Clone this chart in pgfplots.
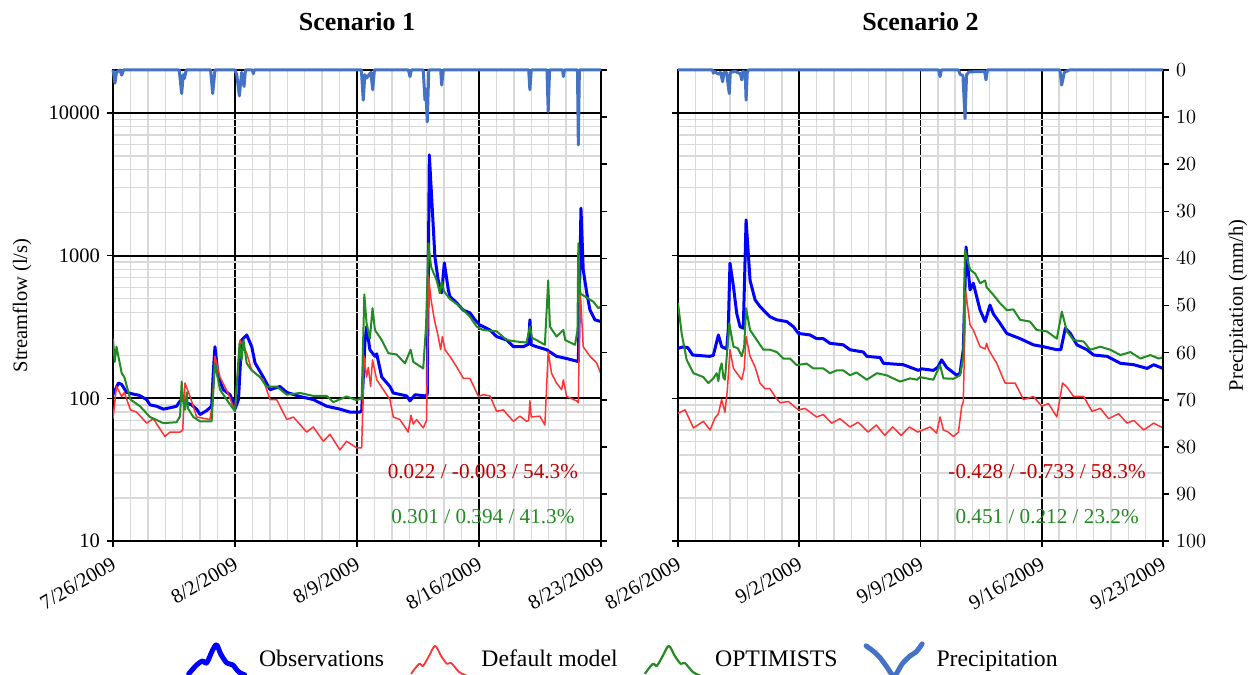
\documentclass[border=0pt]{standalone}
\usepackage{fontspec}
\setmainfont{Liberation Serif}
\usepackage{pgfplots}
\pgfplotsset{compat=1.18}
\definecolor{obsblue}{RGB}{0,0,255}
\definecolor{defred}{RGB}{255,51,51}
\definecolor{optgreen}{RGB}{34,139,34}
\definecolor{precblue}{RGB}{68,114,196}
\definecolor{gridgray}{RGB}{217,217,217}
\definecolor{txtred}{RGB}{192,0,0}
\definecolor{txtgreen}{RGB}{34,139,34}
\newcommand{\tickfont}{\fontsize{10.25}{12}\selectfont}
\pgfplotsset{
  flowaxis/.style={
    scale only axis, height=235.5pt,
    xmin=0, xmax=28, ymin=10, ymax=20000,
    xtick={0,7,14,21,28},
    minor xtick={1,2,3,4,5,6,8,9,10,11,12,13,15,16,17,18,19,20,22,23,24,25,26,27},
    ytick={10,100,1000,10000},
    minor ytick={20,30,40,50,60,70,80,90,200,300,400,500,600,700,800,900,2000,3000,4000,5000,6000,7000,8000,9000},
    grid=both,
    major grid style={black, line width=0.9pt},
    minor grid style={gridgray, line width=0.7pt},
    tick align=outside, major tick length=3pt, minor tick length=0pt,
    tick style={black, line width=0.8pt},
    axis line style={black, line width=0.9pt},
    xtick pos=bottom, ytick pos=left,
    xticklabel style={rotate=30, anchor=north east, font=\tickfont},
    yticklabel style={font=\tickfont},
    ylabel style={font=\tickfont},
    every axis plot/.append style={line join=round},
    title style={at={(0.5,1)}, anchor=center, yshift=18pt, font=\fontsize{13}{15}\selectfont\bfseries},
  },
  rainaxis/.style={
    scale only axis, height=235.5pt,
    xmin=0, xmax=28, ymin=0, ymax=100, y dir=reverse,
    axis y line*=right, axis x line=none,
    ytick={0,10,20,30,40,50,60,70,80,90,100},
    tick align=outside, major tick length=3pt,
    tick style={black, line width=0.8pt},
    axis line style={black, line width=0.9pt},
    yticklabel style={font=\tickfont},
    ylabel style={font=\tickfont},
    every axis plot/.append style={line join=round},
    clip=false,
  },
}
\begin{document}
\begin{tikzpicture}
\path[use as bounding box] (0pt,0pt) rectangle (625.5pt,337pt);
% ---------------- Panel 1 ----------------
\begin{axis}[ymode=log, flowaxis, width=244pt, at={(56.5pt,66.5pt)}, anchor=south west,
  title={Scenario 1},
  xticklabels={7/26/2009,8/2/2009,8/9/2009,8/16/2009,8/23/2009},
  yticklabels={10,100,1000,10000},
  ylabel={Streamflow (l/s)},
  ylabel style={at={(axis description cs:-0.1865,0.5)}, anchor=center},
  legend style={at={(1.047,-0.2527)}, anchor=center, draw=none, fill=none,
    font=\fontsize{11.85}{14}\selectfont, /tikz/every even column/.append style={column sep=11pt}},
  legend columns=4, legend cell align=left]
\addplot[obsblue, line width=1.5pt, forget plot] coordinates {
(0,106)(0.31,128)(0.5,125)(0.78,110)(1.17,107)(1.5,105)(1.93,98)(2.12,90)(2.5,88)(2.89,84)(3.3,86)(3.65,88)(3.8,94)(3.94,98)(4.23,93)(4.5,90)(4.8,84)(4.99,77)(5.37,82)(5.66,88)(5.75,150)(5.85,230)(6.04,141)(6.33,115)(6.71,106)(6.9,95)(7.0,84)(7.2,98)(7.38,256)(7.67,278)(7.96,230)(8.15,177)(8.62,141)(9.01,115)(9.58,121)(9.97,110)(10.73,103)(11.49,98)(12.26,88)(13.02,84)(13.6,80)(14.17,80)(14.27,82)(14.46,250)(14.55,318)(14.74,219)(15.03,197)(15.13,205)(15.42,141)(15.89,121)(16.08,109)(16.85,104)(17.04,96)(17.33,106)(17.9,104)(18.03,106)(18.15,5080)(18.47,980)(18.66,670)(18.86,550)(19.01,890)(19.24,575)(19.33,518)(19.72,466)(20.1,415)(20.48,397)(20.77,355)(21.04,327)(21.63,301)(22.01,271)(22.59,256)(22.97,230)(23.54,230)(23.85,240)(23.92,355)(24.0,237)(24.3,230)(24.88,219)(25.45,197)(26.03,190)(26.7,181)(26.85,2150)(26.98,797)(27.18,550)(27.37,415)(27.65,355)(28,345)};
\addplot[defred, line width=0.75pt, forget plot] coordinates {
(0,72)(0.2,121)(0.5,103)(0.65,110)(1.0,83)(1.36,80)(1.93,67)(2.31,72)(2.98,54)(3.27,58)(3.84,58)(4.0,60)(4.13,128)(4.42,103)(4.8,74)(5.56,71)(5.7,90)(5.85,197)(6.14,141)(6.61,108)(7.0,81)(7.29,256)(7.49,230)(7.67,207)(7.96,157)(8.62,135)(9.01,98)(9.39,98)(9.97,71)(10.35,74)(11.11,58)(11.49,63)(12.07,50)(12.45,56)(13.02,43.5)(13.4,50)(13.98,45)(14.27,45)(14.4,197)(14.55,141)(14.65,165)(14.78,121)(14.89,186)(15.13,135)(15.51,115)(15.89,98)(16.08,74)(16.46,71)(16.94,58)(17.1,76)(17.23,66)(17.42,71)(17.8,62)(17.99,70)(18.1,730)(18.25,490)(18.44,355)(18.66,271)(18.8,219)(18.9,271)(19.05,219)(19.33,197)(19.72,166)(20.1,138)(20.48,138)(20.97,103)(21.24,106)(21.63,104)(22.01,81)(22.39,83)(22.97,69)(23.35,75)(23.73,69)(23.85,70)(23.92,96)(24.0,74)(24.49,75)(24.78,65)(24.97,213)(25.16,150)(25.45,128)(25.74,115)(25.84,135)(26.03,103)(26.6,96)(26.7,93)(26.8,600)(26.98,230)(27.37,197)(27.75,177)(28,148)};
\addplot[optgreen, line width=1pt, forget plot] coordinates {
(0,262)(0.1,180)(0.2,230)(0.5,150)(0.65,141)(1.0,98)(1.55,88)(2.12,74)(2.89,67)(3.65,68)(3.85,75)(3.94,131)(4.05,90)(4.13,83)(4.23,110)(4.3,85)(4.61,74)(4.99,69)(5.66,69)(5.85,176)(6.14,115)(6.52,98)(7.0,81)(7.26,243)(7.38,186)(7.49,256)(7.67,176)(7.96,157)(8.43,141)(8.81,121)(9.39,121)(9.97,106)(10.73,109)(11.49,104)(12.26,104)(12.64,94)(13.4,103)(13.98,97)(14.27,100)(14.42,535)(14.55,334)(14.74,262)(14.89,428)(15.03,301)(15.42,256)(15.8,207)(16.27,203)(16.75,176)(17.08,219)(17.23,180)(17.8,162)(17.96,318)(18.1,1222)(18.25,835)(18.57,670)(18.76,544)(18.86,656)(19.0,560)(19.33,497)(19.91,440)(20.48,373)(20.87,318)(21.24,301)(22.01,295)(22.59,256)(23.16,250)(23.73,246)(23.92,318)(24.05,265)(24.3,256)(24.78,237)(24.97,670)(25.07,318)(25.45,271)(25.84,301)(25.95,256)(26.51,237)(26.65,300)(26.7,1222)(26.8,544)(27.08,518)(27.56,475)(27.85,428)(28,440)};
\node[text=txtred, font=\fontsize{10.6}{12}\selectfont] at (rel axis cs:0.758,0.1465) {0.022 / -0.003 / 54.3\%};
\node[text=txtgreen, font=\fontsize{10.6}{12}\selectfont] at (rel axis cs:0.758,0.051) {0.301 / 0.394 / 41.3\%};
\addlegendimage{legend image code/.code={\draw[obsblue,line width=2.5pt,line join=round,line cap=round] plot[smooth] coordinates {(0pt,-7pt) (4pt,-2.5pt) (7pt,-0.5pt) (9pt,-1.5pt) (12pt,5pt) (14pt,7.5pt) (16pt,3pt) (19pt,-1.5pt) (22pt,-2.5pt) (25pt,-6pt) (28pt,-7.5pt)}; \path (33pt,0pt);}}
\addlegendentry{Observations}
\addlegendimage{legend image code/.code={\draw[defred,line width=0.9pt,line join=round] plot[smooth] coordinates {(0pt,-7pt) (4pt,-2pt) (6pt,-3pt) (9pt,2pt) (12pt,7pt) (15pt,2pt) (18pt,-2pt) (20pt,-1.5pt) (24pt,-6pt) (28pt,-8pt)}; \path (33pt,0pt);}}
\addlegendentry{Default model}
\addlegendimage{legend image code/.code={\draw[optgreen,line width=1.1pt,line join=round] plot[smooth] coordinates {(0pt,-7pt) (4pt,-2pt) (6pt,-3pt) (9pt,2pt) (12pt,7pt) (15pt,2pt) (18pt,-2pt) (20pt,-1.5pt) (24pt,-6pt) (28pt,-8pt)}; \path (33pt,0pt);}}
\addlegendentry{OPTIMISTS}
\addlegendimage{legend image code/.code={\draw[precblue,line width=2.5pt,line join=round,line cap=round] plot[smooth] coordinates {(0pt,7pt) (4pt,4pt) (7pt,1pt) (10pt,-3pt) (14pt,-8pt) (18pt,-2pt) (22pt,2pt) (25pt,4pt) (28pt,8pt)}; \path (33pt,0pt);}}
\addlegendentry{Precipitation}
\end{axis}
\begin{axis}[rainaxis, width=244pt, at={(56.5pt,66.5pt)}, anchor=south west, yticklabels={}]
\addplot[precblue, line width=1.5pt] coordinates {
(0,0)(0.05,1)(0.11,2.8)(0.2,0.5)(0.4,0)(0.5,1.1)(0.6,0)(3.8,0)(3.94,5.0)(4.03,1.0)(4.1,1.8)(4.2,0)(5.6,0)(5.72,5.0)(5.85,0)(7.0,0)(7.1,1)(7.25,5.5)(7.38,0.5)(7.52,3.5)(7.6,0)(8.0,0)(8.05,0.8)(8.1,0)(14.25,0)(14.36,6.4)(14.45,1)(14.55,1.7)(14.8,0.5)(14.9,4.2)(15.0,0)(16.95,0)(17.04,1.4)(17.12,0)(17.8,0)(17.9,6.4)(17.95,4)(18.03,11)(18.12,0)(18.8,0)(18.86,3.2)(18.95,0)(23.85,0)(23.92,4.2)(24.0,0)(24.9,0)(24.97,8.8)(25.05,0)(25.8,0)(25.84,1.4)(25.9,0)(26.65,0)(26.7,15.9)(26.76,0)(28,0)};
\end{axis}
% ---------------- Panel 2 ----------------
\begin{axis}[ymode=log, flowaxis, width=242.5pt, at={(339pt,66.5pt)}, anchor=south west,
  title={Scenario 2},
  xticklabels={8/26/2009,9/2/2009,9/9/2009,9/16/2009,9/23/2009},
  yticklabels={}]
\addplot[obsblue, line width=1.5pt] coordinates {
(0,224)(0.27,229)(0.56,227)(0.85,201)(1.81,197)(2.04,200)(2.33,278)(2.52,230)(2.81,222)(2.9,300)(3.0,886)(3.2,608)(3.39,394)(3.58,318)(3.77,310)(3.93,1780)(4.16,670)(4.45,490)(4.73,440)(5.02,405)(5.31,373)(5.7,355)(6.28,345)(6.66,318)(6.95,285)(7.62,278)(8.0,262)(8.39,262)(8.77,243)(9.54,237)(9.93,219)(10.7,211)(10.9,197)(11.67,193)(11.86,176)(13.01,172)(13.88,157)(14.07,161)(14.74,157)(15.0,165)(15.22,186)(15.5,165)(16.09,145)(16.28,150)(16.47,219)(16.63,1150)(16.86,575)(17.05,640)(17.24,518)(17.44,415)(17.73,345)(18.01,450)(18.21,390)(18.59,336)(18.98,285)(19.75,262)(20.52,237)(21.1,230)(21.87,219)(22.1,219)(22.36,310)(22.65,285)(23.03,237)(23.61,219)(24.0,201)(24.77,197)(25.54,176)(26.31,172)(27.08,162)(27.46,172)(28,162)};
\addplot[defred, line width=0.75pt] coordinates {
(0,78.6)(0.41,83)(0.89,62)(1.46,69)(1.85,60)(2.14,73)(2.33,78)(2.52,98)(2.71,80)(2.85,115)(3.0,219)(3.2,162)(3.49,145)(3.68,135)(3.82,160)(3.93,271)(4.16,197)(4.45,166)(4.73,128)(5.02,117)(5.3,117)(5.6,103)(5.89,93)(6.37,95)(6.95,83)(7.33,85)(8.0,74)(8.39,77)(8.87,67)(9.35,72)(9.93,63)(10.4,68)(10.97,58)(11.45,65)(11.93,55)(12.4,63)(12.88,55)(13.36,63)(13.84,58)(14.55,63)(14.93,57)(15.13,74)(15.32,60)(15.6,58)(15.9,54)(16.19,58)(16.38,88)(16.47,95)(16.61,560)(16.86,327)(17.05,301)(17.44,230)(17.73,222)(17.82,243)(17.92,220)(18.4,176)(18.88,128)(19.46,128)(19.94,98)(20.52,103)(21.0,88)(21.39,92)(21.87,74)(22.2,128)(22.45,120)(22.84,103)(23.42,103)(23.9,81)(24.38,85)(24.86,72)(25.44,78)(25.92,67)(26.31,70)(26.89,60)(27.46,67)(28,62)};
\addplot[optgreen, line width=1pt] coordinates {
(0,464)(0.21,285)(0.5,186)(0.89,150)(1.46,141)(1.75,128)(2.04,138)(2.23,150)(2.33,132)(2.42,160)(2.52,176)(2.62,140)(2.71,135)(2.96,336)(3.2,230)(3.45,225)(3.68,197)(3.82,230)(3.93,428)(4.16,301)(4.55,256)(4.93,219)(5.31,219)(5.7,211)(6.08,190)(6.47,190)(6.85,171)(7.43,175)(7.81,162)(8.39,162)(8.77,150)(9.16,157)(9.54,157)(9.93,145)(10.3,152)(10.9,135)(11.48,150)(12.05,145)(12.82,131)(13.4,138)(13.8,135)(13.97,141)(14.74,135)(15.13,171)(15.32,138)(15.9,137)(16.28,145)(16.47,197)(16.57,1090)(16.86,797)(17.15,750)(17.44,640)(17.73,670)(17.82,600)(18.21,530)(18.59,464)(18.98,415)(19.36,420)(19.75,355)(20.32,345)(20.71,301)(21.28,295)(21.87,262)(22.16,405)(22.45,295)(22.84,256)(23.42,250)(23.8,219)(24.38,230)(24.96,219)(25.54,201)(26.12,211)(26.69,190)(27.27,201)(27.75,190)(28,194)};
\node[text=txtred, font=\fontsize{10.6}{12}\selectfont] at (rel axis cs:0.761,0.1465) {-0.428 / -0.733 / 58.3\%};
\node[text=txtgreen, font=\fontsize{10.6}{12}\selectfont] at (rel axis cs:0.761,0.051) {0.451 / 0.212 / 23.2\%};
\end{axis}
\begin{axis}[rainaxis, width=242.5pt, at={(339pt,66.5pt)}, anchor=south west,
  ylabel={Precipitation (mm/h)},
  ylabel style={at={(axis description cs:1.1546,0.5)}, anchor=center}]
\addplot[precblue, line width=1.5pt] coordinates {
(0,0)(2.0,0)(2.04,0.7)(2.1,0.3)(2.33,0.9)(2.45,0.5)(2.58,2.5)(2.65,0.5)(2.8,0.5)(2.96,5.0)(3.02,0.5)(3.3,0.3)(3.6,0.8)(3.68,2.1)(3.75,0.3)(3.88,0.5)(3.93,6.4)(4.0,0.5)(4.07,0)(15.05,0)(15.13,1.4)(15.2,0)(16.2,0)(16.28,0.9)(16.45,1.2)(16.57,10.3)(16.66,1.0)(16.8,0.4)(17.7,0.3)(17.78,2.1)(17.86,0)(22.05,0)(22.15,3.2)(22.3,0.5)(22.6,0)(28,0)};
\end{axis}
\end{tikzpicture}
\end{document}
